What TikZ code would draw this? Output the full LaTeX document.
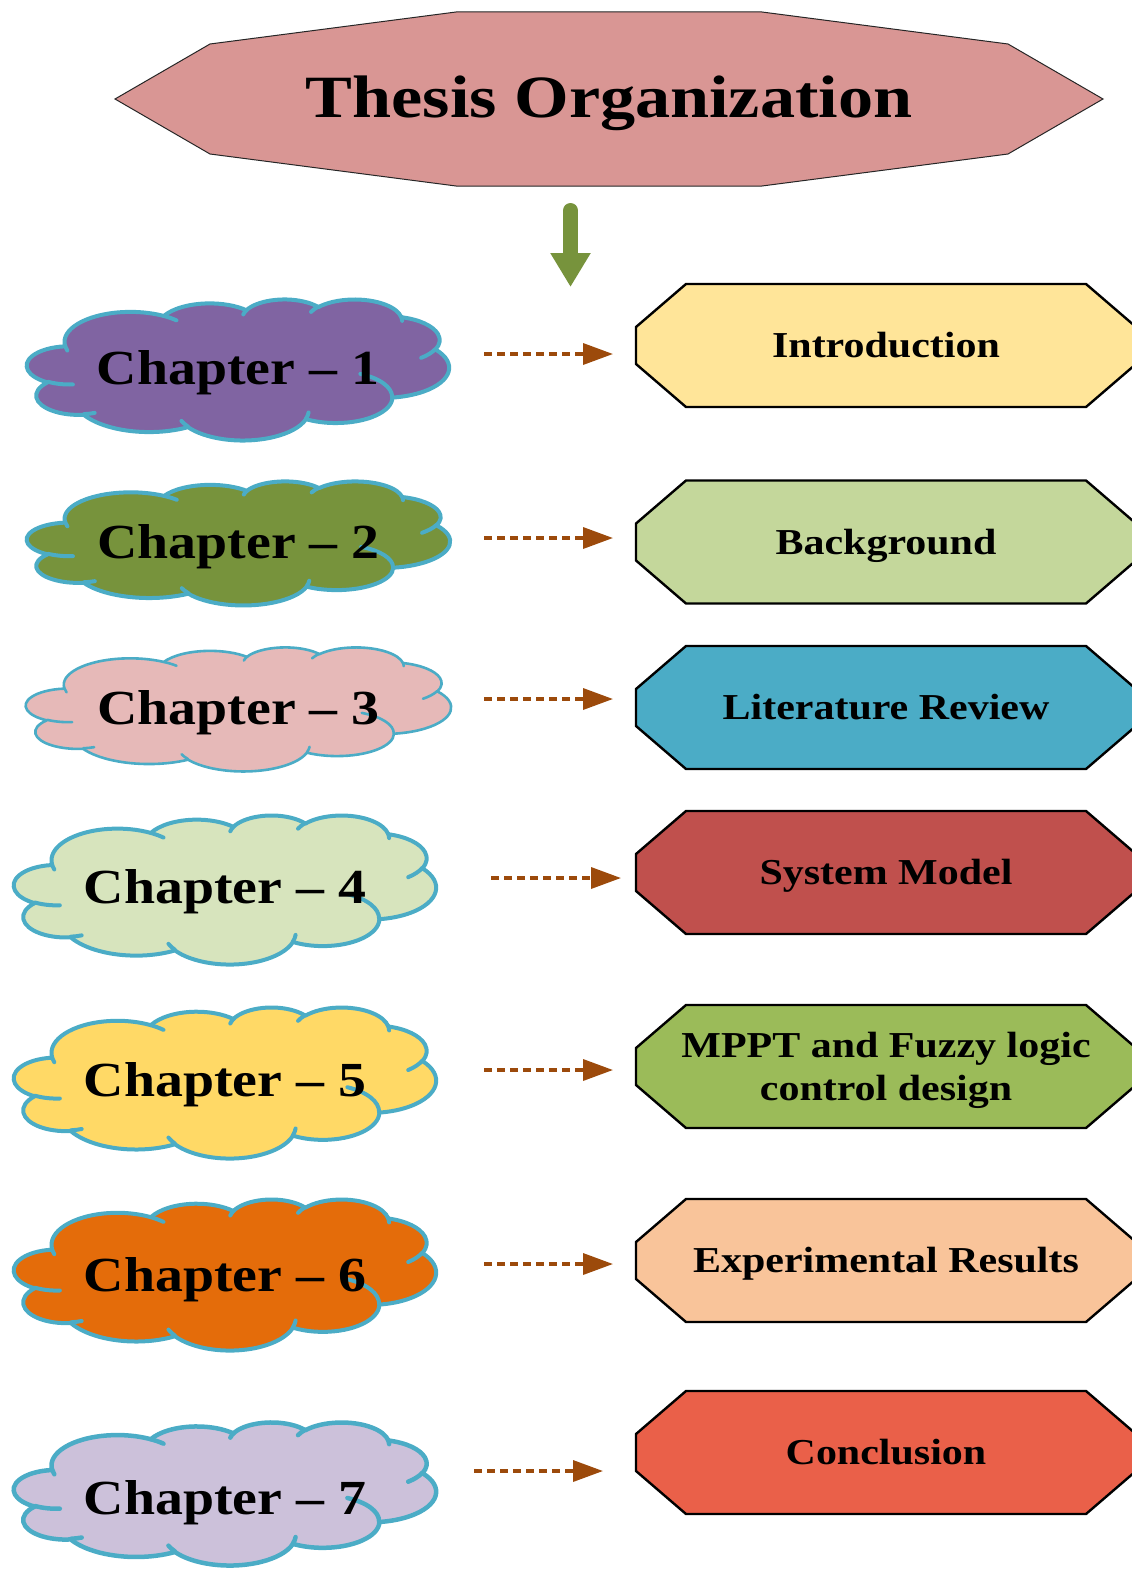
\documentclass[tikz,border=0pt]{standalone}
\usepackage{fontspec}
\setmainfont{Liberation Serif}
\usetikzlibrary{arrows.meta}

\definecolor{titlepink}{HTML}{D99694}
\definecolor{cloudblue}{HTML}{4BACC6}
\definecolor{arrowbrown}{HTML}{9C4A0B}
\definecolor{arrowgreen}{HTML}{77933C}
\definecolor{cA}{HTML}{8064A2}
\definecolor{cB}{HTML}{77933C}
\definecolor{cC}{HTML}{E6B9B8}
\definecolor{cD}{HTML}{D7E4BD}
\definecolor{cE}{HTML}{FFD966}
\definecolor{cF}{HTML}{E46C0A}
\definecolor{cG}{HTML}{CCC1DA}
\definecolor{bA}{HTML}{FFE599}
\definecolor{bB}{HTML}{C4D79B}
\definecolor{bC}{HTML}{4BACC6}
\definecolor{bD}{HTML}{C0504D}
\definecolor{bE}{HTML}{9BBB59}
\definecolor{bF}{HTML}{F9C49A}
\definecolor{bG}{HTML}{EA6049}

\makeatletter
\def\cloudouter{}
\def\cloudinner{}
\newcommand\cloudmkarc[4]{%
  \pgfmathsetmacro\cl@ta{atan2(#1*sin(#3),#2*cos(#3))}%
  \pgfmathsetmacro\cl@tb{atan2(#1*sin(#3+#4),#2*cos(#3+#4))}%
  \pgfmathsetmacro\cl@td{mod(\cl@tb-\cl@ta+540,360)-180}%
  \edef\cl@arc{ arc[x radius={#1*\noexpand\cldw}, y radius={#2*\noexpand\cldh}, start angle=\cl@ta, delta angle=\cl@td]}%
}
\newcommand\cloudout[4]{\cloudmkarc{#1}{#2}{#3}{#4}%
  \xdef\cloudouter{\unexpanded\expandafter{\cloudouter}\unexpanded\expandafter{\cl@arc}}}
\newcommand\cloudin[6]{\cloudmkarc{#3}{#4}{#5}{#6}%
  \xdef\cloudinner{\unexpanded\expandafter{\cloudinner} ({\noexpand\cldx+#1*\noexpand\cldw},{\noexpand\cldy+#2*\noexpand\cldh})\unexpanded\expandafter{\cl@arc}}}
\makeatother

\cloudout{0.156319}{0.212731}{-190.48748}{123.78053}
\cloudout{0.123449}{0.168218}{-144.10238}{89.94523}
\cloudout{0.101042}{0.137616}{-145.80792}{99.72302}
\cloudout{0.112431}{0.152662}{-130.98607}{117.24173}
\cloudout{0.123449}{0.168356}{-78.70888}{109.02692}
\cloudout{0.156829}{0.213426}{-46.26725}{130.26900}
\cloudout{0.133912}{0.182106}{0.62502}{114.03333}
\cloudout{0.156296}{0.213310}{22.45160}{115.17255}
\cloudout{0.178704}{0.244051}{66.24263}{75.71102}
\cloudout{0.100926}{0.136991}{-274.94208}{146.73557}
\cloudout{0.100579}{0.137616}{-246.82850}{152.51885}

\cloudin{0.108634}{0.605949}{0.100579}{0.137616}{86.74200}{26.42950}
\cloudin{0.160370}{0.807847}{0.100926}{0.136991}{73.61047}{11.44747}
\cloudin{0.381435}{0.904861}{0.156296}{0.213310}{137.62415}{14.08110}
\cloudin{0.667292}{0.804421}{0.156296}{0.213310}{6.45327}{15.99835}
\cloudin{0.790023}{0.531343}{0.133912}{0.182106}{-70.29235}{70.91737}
\cloudin{0.967546}{0.355417}{0.123449}{0.168356}{30.31803}{27.75150}
\cloudin{0.887130}{0.125602}{0.112431}{0.152662}{-13.74433}{14.85890}
\cloudin{0.673102}{0.091481}{0.112431}{0.152662}{-149.18145}{18.19537}
\cloudin{0.512523}{0.109259}{0.101042}{0.137616}{-163.49427}{17.68635}
\cloudin{0.324074}{0.120185}{0.156319}{0.212731}{-66.70695}{12.31935}
\cloudin{0.095532}{0.365486}{0.156319}{0.212731}{157.65435}{11.85817}

\newcommand\chapfont{\fontsize{49}{49}\selectfont\bfseries\addfontfeatures{FakeStretch=1.14}}
\newcommand\boxfont{\fontsize{36.5}{43}\selectfont\bfseries\addfontfeatures{FakeStretch=1.15}}
\newcommand\titlefont{\fontsize{60}{60}\selectfont\bfseries\addfontfeatures{FakeStretch=1.17}}

\tikzset{
  cloudline/.style={draw=cloudblue, line width=4pt, line join=round, line cap=round},
  chaptext/.style={inner sep=0pt, text height=32pt, text depth=0pt, font=\chapfont},
  boxtext/.style={inner sep=0pt, align=center, font=\boxfont, text height=24pt, text depth=0pt},
  octline/.style={draw=black, line width=2.4pt, line join=miter},
  dasharrow/.style={draw=arrowbrown, line width=3.5pt, dash pattern=on 8pt off 5pt,
                    -{Triangle[length=30pt,width=21pt]}},
  greenarrow/.style={draw=arrowgreen, line width=15pt, line cap=round,
                    -{Triangle[length=34pt,width=38pt]}},
}

% #1 name, #2 x0, #3 y0, #4 w, #5 h, #6 path options, #7 text y, #8 text
\newcommand\chapcloud[8]{%
  \def\cldx{#2}\def\cldy{#3}\def\cldw{#4}\def\cldh{#5}%
  \draw[cloudline, #6] ({\cldx+0.090278*\cldw},{\cldy+0.332639*\cldh}) \cloudouter -- cycle;
  \draw[cloudline, #6, fill=none] \cloudinner;
  \node[chaptext] (#1) at ({#2+#4/2},#7) {#8};
}
% #1 name, #2 centre y, #3 fill, #4 extra node options, #5 text
\newcommand\octbox[5]{%
  \draw[octline, fill=#3] (686,{#2-61.5}) -- (1086,{#2-61.5}) -- (1136,{#2-18.5}) -- (1136,{#2+18.5})
    -- (1086,{#2+61.5}) -- (686,{#2+61.5}) -- (636,{#2+18.5}) -- (636,{#2-18.5}) -- cycle;
  \node[boxtext, #4] (#1) at (886,#2) {#5};
}

\begin{document}
\begin{tikzpicture}[x=1pt, y=-1pt]
\path[use as bounding box, clip] (0,0) rectangle (1132,1571);

% title
\draw[line width=1pt, draw=black!85, fill=titlepink, line join=miter]
  (115,99) -- (210,44) -- (456,12) -- (762,12) -- (1008,44) -- (1103,99)
  -- (1008,154) -- (762,186) -- (456,186) -- (210,154) -- cycle;
\node[font=\titlefont, inner sep=0pt, text height=40pt, text depth=0pt] (title) at (609,97.5) {Thesis Organization};

% green arrow
\coordinate (g1) at (570.5,210.5);
\coordinate (g2) at (570.5,287);
\draw[greenarrow] (g1) -- (g2);

% clouds
\chapcloud{ch1}{27}{299}{422}{141}{fill=cA}{368.5}{Chapter – 1}
\chapcloud{ch2}{27}{481}{423}{124}{fill=cB}{542}{Chapter – 2}
\chapcloud{ch3}{26}{647}{425}{124}{fill=cC, line width=2.6pt}{708}{Chapter – 3}
\chapcloud{ch4}{14}{815}{422}{149}{fill=cD}{887.5}{Chapter – 4}
\chapcloud{ch5}{14}{1007}{422}{151}{fill=cE}{1080.5}{Chapter – 5}
\chapcloud{ch6}{14}{1199}{422}{151}{fill=cF}{1275}{Chapter – 6}
\chapcloud{ch7}{14}{1422}{422}{143}{fill=cG, line width=4.5pt}{1498}{Chapter – 7}

% boxes
\octbox{b1}{345.5}{bA}{}{Introduction}
\octbox{b2}{542}{bB}{}{Background}
\octbox{b3}{707.5}{bC}{}{Literature Review}
\octbox{b4}{872.5}{bD}{}{System Model}
\octbox{b5}{1066.5}{bE}{text height=67pt, text depth=0pt}{MPPT and Fuzzy logic\\control design}
\octbox{b6}{1260.5}{bF}{}{Experimental Results}
\octbox{b7}{1452.5}{bG}{}{Conclusion}

% dashed arrows
\coordinate (a1s) at (484,354);  \coordinate (a1e) at (613,354);
\coordinate (a2s) at (484,538);  \coordinate (a2e) at (613,538);
\coordinate (a3s) at (484,699);  \coordinate (a3e) at (613,699);
\coordinate (a4s) at (491,878);  \coordinate (a4e) at (621,878);
\coordinate (a5s) at (484,1070); \coordinate (a5e) at (613,1070);
\coordinate (a6s) at (484,1264); \coordinate (a6e) at (613,1264);
\coordinate (a7s) at (474,1471); \coordinate (a7e) at (603,1471);
\foreach \i in {1,...,7}{\draw[dasharrow] (a\i s) -- (a\i e);}
\end{tikzpicture}
\end{document}
